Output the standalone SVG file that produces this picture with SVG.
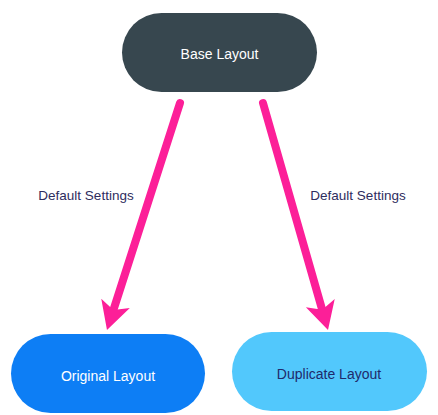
<svg xmlns="http://www.w3.org/2000/svg" width="438" height="415" viewBox="0 0 438 415">
  <style>
    .node-text { font-family: "Liberation Sans", Arial, sans-serif; font-size: 14px; text-anchor: middle; }
    .label { font-family: "Liberation Sans", Arial, sans-serif; font-size: 13.5px; fill: #2e2d5e; text-anchor: middle; }
    .conn { stroke: #fc1f98; stroke-width: 8; stroke-linecap: round; fill: none; marker-end: url(#head); }
  </style>
  <defs>
    <marker id="head" markerUnits="userSpaceOnUse" viewBox="-30 -18 32 36" markerWidth="32" markerHeight="36" refX="-20" refY="0" orient="auto">
      <path d="M0,0 L-28,-15 L-21,0 L-28,15 Z" fill="#fc1f98"/>
    </marker>
  </defs>
  <rect width="438" height="415" fill="#ffffff"/>
  <g id="connectors">
    <line class="conn" x1="180" y1="103" x2="113.1" y2="311"/>
    <line class="conn" x1="263" y1="103" x2="322.5" y2="310.8"/>
    <text class="label" x="86" y="200">Default Settings</text>
    <text class="label" x="358" y="200">Default Settings</text>
  </g>
  <g id="base-layout">
    <rect x="122" y="13" width="195" height="79" rx="39.5" fill="#37474f"/>
    <text class="node-text" x="219.5" y="59" fill="#ffffff">Base Layout</text>
  </g>
  <g id="original-layout">
    <rect x="11" y="334" width="194" height="79" rx="39.5" fill="#0d7ef5"/>
    <text class="node-text" x="108" y="381" fill="#ffffff">Original Layout</text>
  </g>
  <g id="duplicate-layout">
    <rect x="232" y="332" width="195" height="79" rx="39.5" fill="#52c8fc"/>
    <text class="node-text" x="329" y="379" fill="#1f2a6b">Duplicate Layout</text>
  </g>
</svg>
